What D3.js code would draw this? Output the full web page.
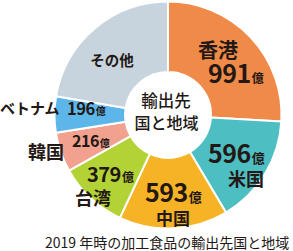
<!DOCTYPE html>
<html><head><meta charset="utf-8">
<script src="https://cdn.jsdelivr.net/npm/d3@7/dist/d3.min.js"></script>
<style>
html,body{margin:0;padding:0;background:#fff;}
svg text{font-family:"Noto Sans CJK JP","Noto Sans",sans-serif;fill:#231815;}
</style></head>
<body>
<svg id="c" width="293" height="251"></svg>
<script>
const categories = ["香港","米国","中国","台湾","韓国","ベトナム","その他"];
const values = [991, 596, 593, 379, 216, 196, 856];
const unit = "億";
const centerLines = ["輸出先","国と地域"];
const caption = "2019 年時の加工食品の輸出先国と地域";

const colors = ["#f08a48","#4dbfc3","#f6b325","#b3d236","#f1a18e","#5db6e9","#c7d4de"];

const cx = 168, cy = 115, rOut = 113.5, rIn = 43;
const svg = d3.select("#c");
const g = svg.append("g").attr("transform",`translate(${cx},${cy})`);

const pie = d3.pie().sort(null).value(d=>d.v).startAngle(0).endAngle(2*Math.PI);
const data = categories.map((c,i)=>({c, v:values[i], col:colors[i]}));
const arc = d3.arc().innerRadius(rIn).outerRadius(rOut);
g.selectAll("path").data(pie(data)).join("path")
  .attr("d",arc).attr("fill",d=>d.data.col)
  .attr("stroke","#fff").attr("stroke-width",2).attr("stroke-linejoin","round");

// label layout (absolute page coords)
const layout = {
  "香港":   {name:[218,58,20,"middle"], val:[208,83,25,12]},
  "米国":   {name:[246,186,18,"middle"], val:[208,163,25,13]},
  "中国":   {name:[173,225,17,"middle"], val:[145,202,25,13]},
  "台湾":   {name:[93,205,18,"middle"], val:[87,182,20,12]},
  "韓国":   {name:[28,159,18,"start"], val:[72,147,16,10]},
  "ベトナム":{name:[0,114,15,"start"], val:[67,115,16.5,10]},
  "その他": {name:[112,66,14.5,"middle"]}
};

data.forEach(d=>{
  const L = layout[d.c];
  svg.append("text").attr("x",L.name[0]).attr("y",L.name[1])
    .attr("font-size",L.name[2]).attr("text-anchor",L.name[3])
    .attr("font-weight",600).text(d.c);
  if (L.val && d.c!=="その他") {
    const t = svg.append("text").attr("x",L.val[0]).attr("y",L.val[1]).attr("font-weight",700);
    t.append("tspan").attr("font-size",L.val[2]).attr("letter-spacing",-0.5).text(d.v);
    t.append("tspan").attr("font-size",L.val[3]).attr("dx",1).text(unit);
  }
});

svg.append("text").attr("x",166).attr("y",107).attr("text-anchor","middle")
  .attr("font-size",16.5).attr("font-weight",500).text(centerLines[0]);
svg.append("text").attr("x",166.5).attr("y",129).attr("text-anchor","middle")
  .attr("font-size",16).attr("font-weight",500).text(centerLines[1]);

svg.append("text").attr("x",45).attr("y",248).attr("font-size",14)
  .attr("font-weight",400).text(caption);
</script>
</body></html>
